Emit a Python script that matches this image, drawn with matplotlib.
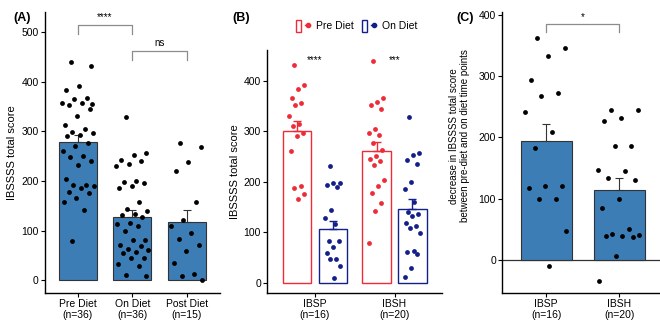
import matplotlib
matplotlib.use("Agg")
import matplotlib.pyplot as plt
import numpy as np
from matplotlib.patches import Patch
from matplotlib.lines import Line2D
from matplotlib.legend_handler import HandlerTuple

plt.rcParams['font.family'] = ['Liberation Sans', 'DejaVu Sans']

# ---- data ----
# panel A
a_labels = ["Pre Diet\n(n=36)", "On Diet\n(n=36)", "Post Diet\n(n=15)"]
a_means = [278, 128, 117]
a_se = [14, 14, 25]
a_pre = [440, 432, 391, 384, 367, 366, 358, 356, 352, 344, 331, 312, 305, 298, 297, 293,
         290, 277, 270, 260, 251, 249, 240, 232, 204, 192, 191, 190, 186, 178, 176, 165,
         158, 141, 79, 355]
a_on = [329, 257, 253, 242, 240, 234, 231, 199, 197, 196, 190, 185, 158, 143, 139, 133,
        131, 127, 116, 113, 109, 99, 81, 81, 70, 68, 62, 60, 56, 55, 45, 44, 32, 28, 10, 9]
a_post = [277, 269, 239, 221, 157, 121, 109, 96, 84, 71, 59, 34, 12, 9, 0]

# panel B
b_groups = ["IBSP\n(n=16)", "IBSH\n(n=20)"]
b_pre_means = [300, 260]
b_pre_se = [20, 19]
b_on_means = [107, 146]
b_on_se = [15, 19]
b_ibsp_pre = [432, 391, 383, 366, 355, 351, 331, 314, 311, 296, 290, 260, 192, 188, 175, 165]
b_ibsp_on = [231, 197, 197, 193, 190, 143, 127, 116, 82, 82, 70, 58, 46, 46, 33, 9]
b_ibsh_pre = [440, 366, 358, 352, 344, 305, 297, 292, 277, 262, 250, 245, 240, 232, 204,
              192, 178, 158, 141, 79]
b_ibsh_on = [329, 257, 253, 242, 235, 199, 185, 159, 140, 135, 131, 117, 113, 108, 99,
             63, 60, 56, 28, 11]
b_stars = ["****", "***"]

# panel C
c_labels = ["IBSP\n(n=16)", "IBSH\n(n=20)"]
c_means = [194, 114]
c_se = [28, 19]
c_ibsp = [362, 345, 333, 293, 273, 267, 242, 208, 183, 120, 120, 117, 100, 100, 48, -10]
c_ibsh = [245, 245, 232, 227, 186, 186, 146, 145, 133, 130, 99, 84, 50, 42, 40, 39, 39,
          38, 6, -34]

BAR = "#3d7db5"
RED = "#ee2b36"
NAVY = "#13208a"
GREY = "#8c8c8c"


def jitter(n, width):
    # deterministic spread of points across the bar
    k = np.arange(n)
    return ((k * 0.618034 + 0.3) % 1 - 0.5) * width


def style(ax):
    for s in ["top", "right"]:
        ax.spines[s].set_visible(False)
    for s in ["left", "bottom"]:
        ax.spines[s].set_linewidth(1.0)
    ax.tick_params(labelsize=7.5, length=3, width=0.8, pad=1.5)
    for t in ax.get_xticklabels():
        t.set_linespacing(1.05)


def bracket(ax, x1, x2, y, h, text):
    ax.plot([x1, x1, x2, x2], [y - h, y, y, y - h], color=GREY, lw=0.9)
    ax.text((x1 + x2) / 2, y + h * 0.3, text, ha="center", va="bottom", fontsize=7)


fig = plt.figure(figsize=(6.6, 3.2), dpi=100)

# ---- (A) ----
ax = fig.add_axes([0.068, 0.084, 0.265, 0.878])
x = np.arange(3)
ax.bar(x, a_means, width=0.7, color=BAR, edgecolor="#333333", linewidth=0.8, zorder=2)
ax.errorbar(x, a_means, yerr=[[0] * 3, a_se], fmt="none", ecolor="#333333",
            elinewidth=0.8, capsize=3, capthick=0.8, zorder=3)
for i, pts in enumerate([a_pre, a_on, a_post]):
    ax.scatter(i + jitter(len(pts), 0.6), pts, s=12, color="black", zorder=4, lw=0)
bracket(ax, 0, 1, 515, 18, "****")
bracket(ax, 1, 2, 462, 18, "ns")
ax.set_xlim(-0.6, 2.6)
ax.set_ylim(-26, 540)
ax.set_yticks([0, 100, 200, 300, 400, 500])
ax.set_xticks(x)
ax.set_xticklabels(a_labels)
ax.set_ylabel("IBSSSS total score", fontsize=8, labelpad=3)
style(ax)
fig.text(0.02, 0.945, "(A)", fontsize=9, fontweight="bold", va="center")

# ---- (B) ----
ax = fig.add_axes([0.405, 0.084, 0.265, 0.76])
xg = np.arange(2)
off = 0.225
bw = 0.36
ax.bar(xg - off, b_pre_means, width=bw, facecolor="white", edgecolor=RED, linewidth=1.0, zorder=2)
ax.bar(xg + off, b_on_means, width=bw, facecolor="white", edgecolor=NAVY, linewidth=1.0, zorder=2)
ax.errorbar(xg - off, b_pre_means, yerr=[[0, 0], b_pre_se], fmt="none", ecolor=RED,
            elinewidth=1.0, capsize=3, capthick=1.0, zorder=3)
ax.errorbar(xg + off, b_on_means, yerr=[[0, 0], b_on_se], fmt="none", ecolor=NAVY,
            elinewidth=1.0, capsize=3, capthick=1.0, zorder=3)
for i, (pre, on) in enumerate([(b_ibsp_pre, b_ibsp_on), (b_ibsh_pre, b_ibsh_on)]):
    ax.scatter(i - off + jitter(len(pre), 0.2), pre, s=12, color=RED, zorder=4, lw=0)
    ax.scatter(i + off + jitter(len(on), 0.2), on, s=12, color=NAVY, zorder=4, lw=0)
    ax.text(i, 440, b_stars[i], ha="center", va="center", fontsize=7)
ax.set_xlim(-0.6, 1.6)
ax.set_ylim(-21, 461)
ax.set_yticks([0, 100, 200, 300, 400])
ax.set_xticks(xg)
ax.set_xticklabels(b_groups)
ax.set_ylabel("IBSSSS total score", fontsize=8, labelpad=3)
style(ax)
fig.text(0.352, 0.945, "(B)", fontsize=9, fontweight="bold", va="center")

h_pre = (Patch(facecolor="white", edgecolor=RED, lw=1.0),
         Line2D([], [], color=RED, marker="o", markersize=3, lw=1.0))
h_on = (Patch(facecolor="white", edgecolor=NAVY, lw=1.0),
        Line2D([], [], color=NAVY, marker="o", markersize=3, lw=1.0))
fig.legend([h_pre, h_on], ["Pre Diet", "On Diet"], handler_map={tuple: HandlerTuple(ndivide=None)},
           loc="center", bbox_to_anchor=(0.54, 0.919), ncol=2, frameon=False, fontsize=7.5,
           handlelength=1.4, handleheight=1.3, columnspacing=0.8, handletextpad=0.5)

# ---- (C) ----
ax = fig.add_axes([0.761, 0.084, 0.244, 0.878])
ax.bar(xg, c_means, width=0.7, color=BAR, edgecolor="#333333", linewidth=0.8, zorder=2)
ax.errorbar(xg, c_means, yerr=[[0, 0], c_se], fmt="none", ecolor="#333333",
            elinewidth=0.8, capsize=3, capthick=0.8, zorder=3)
for i, pts in enumerate([c_ibsp, c_ibsh]):
    ax.scatter(i + jitter(len(pts), 0.6), pts, s=12, color="black", zorder=4, lw=0)
ax.axhline(0, color="#333333", lw=0.9, zorder=1)
bracket(ax, 0, 1, 384, 13, "*")
ax.set_xlim(-0.6, 1.6)
ax.set_ylim(-54, 404)
ax.set_yticks([0, 100, 200, 300, 400])
ax.set_xticks(xg)
ax.set_xticklabels(c_labels)
ax.set_ylabel("decrease in IBSSSS total score\nbetween pre-diet and on diet time points",
              fontsize=7, linespacing=1.1, labelpad=3)
ax.yaxis.set_label_coords(-0.2, 0.56)
style(ax)
fig.text(0.692, 0.945, "(C)", fontsize=9, fontweight="bold", va="center")

fig.savefig("out.png", dpi=100)
